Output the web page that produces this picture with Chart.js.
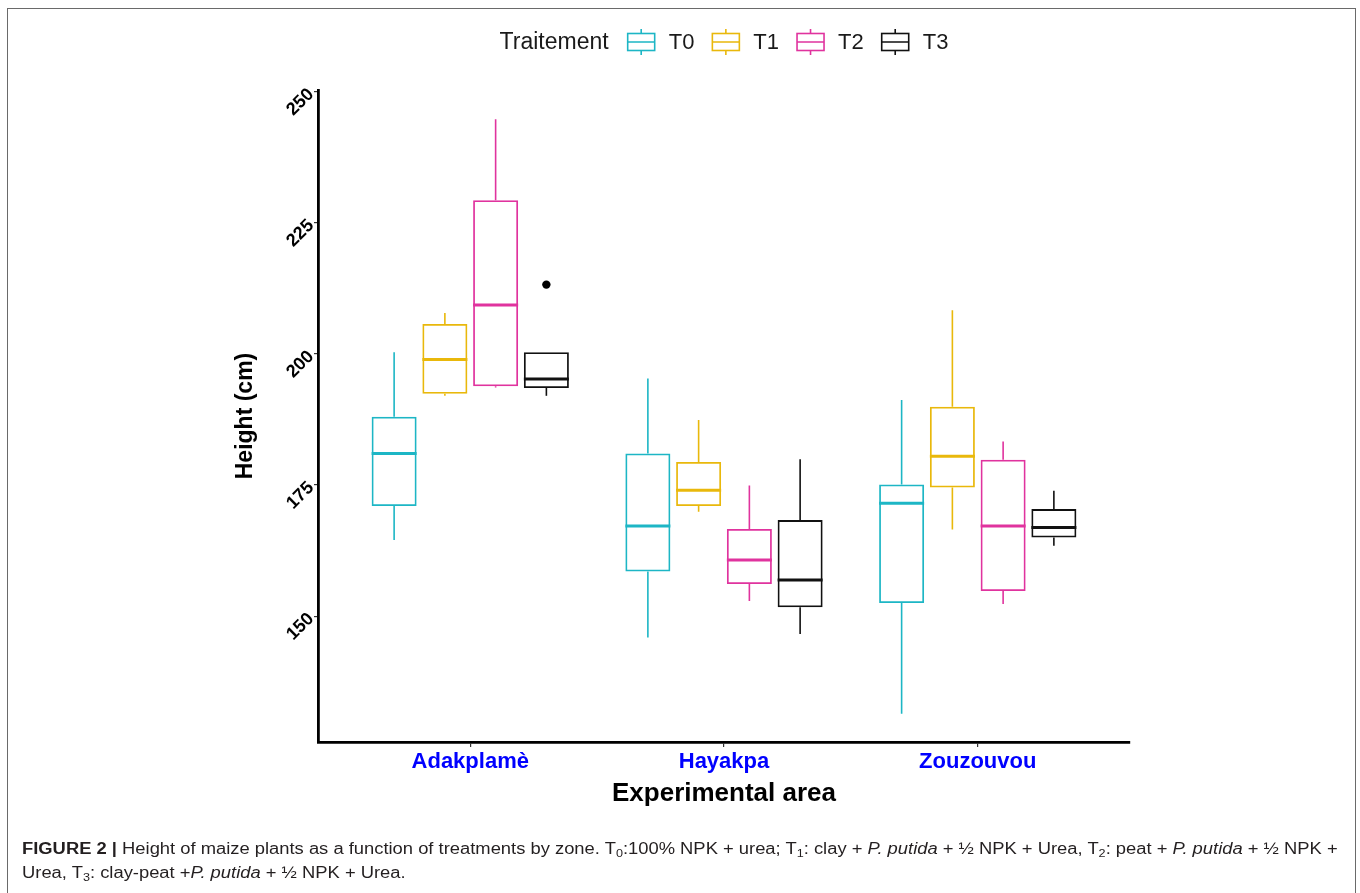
<!DOCTYPE html>
<html>
<head>
<meta charset="utf-8">
<script src="https://cdn.jsdelivr.net/npm/chart.js@4"></script>
<style>
  html, body { margin: 0; padding: 0; background: #fff; }
  #wrap { position: relative; width: 1360px; height: 893px; overflow: hidden; }
  #frame {
    position: absolute; left: 7px; top: 8px; width: 1349px; height: 900px;
    border: 1.6px solid #6a6a6a; border-bottom: none; box-sizing: border-box;
  }
  #chart { position: absolute; left: 0; top: 0; }
  #caption {
    position: absolute; left: 22px; top: 837px;
    font-family: "Liberation Sans", Arial, Helvetica, sans-serif;
    font-size: 16px; line-height: 24px; color: #231f20; white-space: nowrap;
    transform: scaleX(1.148); transform-origin: 0 0;
  }
  #caption sub { font-size: 11px; vertical-align: -3px; line-height: 0; }
</style>
</head>
<body>
<div id="wrap">
  <div id="frame"></div>
  <canvas id="chart" width="1360" height="893"></canvas>
  <div id="caption"><b>FIGURE 2 |</b> Height of maize plants as a function of treatments by zone. T<sub>0</sub>:100% NPK + urea; T<sub>1</sub>: clay + <i>P. putida</i> + ½ NPK + Urea, T<sub>2</sub>: peat + <i>P. putida</i> + ½ NPK +<br>Urea, T<sub>3</sub>: clay-peat +<i>P. putida</i> + ½ NPK + Urea.</div>
</div>
<script>
// Experimental areas and treatments
const categories = ['Adakplamè', 'Hayakpa', 'Zouzouvou'];
const treatments = ['T0', 'T1', 'T2', 'T3'];
const yTicks = [150, 175, 200, 225, 250];

// Box-plot summaries of plant height (cm): rows = treatments, columns = areas
const whiskerLow  = [[164.5, 145.9, 131.4], [192.0, 169.9, 166.5], [193.6, 152.9, 152.3], [192.0, 146.6, 163.4]];
const quartile1   = [[171.0, 158.5, 152.5], [192.4, 171.0, 174.5], [193.8, 156.1, 154.8], [193.5, 151.7, 165.0]];
const median      = [[181.0, 167.2, 171.5], [198.9, 174.0, 180.5], [209.3, 160.7, 167.2], [195.2, 156.9, 166.9]];
const quartile3   = [[188.0, 181.0, 175.1], [205.7, 179.4, 189.9], [229.3, 166.6, 179.8], [200.3, 168.3, 170.4]];
const whiskerHigh = [[200.3, 195.3, 191.2], [207.8, 187.4, 208.3], [244.7, 174.9, 183.3], [200.3, 179.9, 173.9]];

// Outlying plants
const outlierArea = ['Adakplamè'];
const outlierTreatment = ['T3'];
const outlierHeight = [213.2];

const colors = ['#1DB6C5', '#E9B80B', '#E0339E', '#111111'];
const FONT = '"Liberation Sans", Arial, Helvetica, sans-serif';
Chart.defaults.font.family = FONT;

// horizontal slot of a treatment box inside its area (dodged around the area centre)
const DODGE = 0.2;
const slot = (ci, ti) => ci + 1 + (ti - (treatments.length - 1) / 2) * DODGE;

const boxSets = treatments.map((t, ti) => ({
  type: 'bar',
  label: t,
  data: categories.map((c, ci) => ({ x: slot(ci, ti), y: [quartile1[ti][ci], quartile3[ti][ci]] })),
  borderColor: colors[ti],
  backgroundColor: 'rgba(255,255,255,0)',
  borderWidth: 1.8,
  borderSkipped: false,
  grouped: false,
  categoryPercentage: 1,
  barPercentage: 0.887
}));

const outlierSet = {
  type: 'scatter',
  label: 'outliers',
  data: outlierHeight.map((v, k) => ({
    x: slot(categories.indexOf(outlierArea[k]), treatments.indexOf(outlierTreatment[k])),
    y: v
  })),
  pointRadius: 4.2,
  backgroundColor: '#000',
  borderWidth: 0
};

// whiskers and median bars on top of each box
const boxWhiskers = {
  id: 'boxWhiskers',
  afterDatasetsDraw(chart) {
    const { ctx, scales: { y } } = chart;
    const py = v => y.getPixelForValue(v);
    treatments.forEach((t, ti) => {
      chart.getDatasetMeta(ti).data.forEach((bar, ci) => {
        const x = bar.x, half = bar.width / 2;
        ctx.save();
        ctx.strokeStyle = colors[ti];
        ctx.lineWidth = 1.6;
        ctx.beginPath();
        ctx.moveTo(x, py(quartile3[ti][ci]));
        ctx.lineTo(x, py(whiskerHigh[ti][ci]));
        ctx.moveTo(x, py(quartile1[ti][ci]));
        ctx.lineTo(x, py(whiskerLow[ti][ci]));
        ctx.stroke();
        ctx.lineWidth = 3;
        ctx.beginPath();
        ctx.moveTo(x - half, py(median[ti][ci]));
        ctx.lineTo(x + half, py(median[ti][ci]));
        ctx.stroke();
        ctx.restore();
      });
    });
  }
};

// legend row: title followed by a small box-plot key for each treatment
const boxLegend = {
  id: 'boxLegend',
  afterDraw(chart) {
    const { ctx, chartArea } = chart;
    const titleFont = '23px ' + FONT, itemFont = '22px ' + FONT;
    const iconW = 27, iconH = 17, stub = 4.5, gapTitle = 19, gapIcon = 14, gapItem = 18;
    const cy = 42;
    ctx.save();
    ctx.font = titleFont;
    const tw = ctx.measureText('Traitement').width;
    ctx.font = itemFont;
    const widths = treatments.map(t => ctx.measureText(t).width);
    const total = tw + gapTitle + widths.reduce((s, w) => s + iconW + gapIcon + w, 0) + gapItem * (treatments.length - 1);
    let x = (chartArea.left + chartArea.right) / 2 - total / 2;
    ctx.textBaseline = 'middle';
    ctx.fillStyle = '#1a1a1a';
    ctx.font = titleFont;
    ctx.fillText('Traitement', x, cy + 1);
    x += tw + gapTitle;
    treatments.forEach((t, ti) => {
      ctx.strokeStyle = colors[ti];
      ctx.lineWidth = 1.6;
      ctx.strokeRect(x, cy - iconH / 2, iconW, iconH);
      ctx.beginPath();
      ctx.moveTo(x, cy); ctx.lineTo(x + iconW, cy);
      ctx.moveTo(x + iconW / 2, cy - iconH / 2); ctx.lineTo(x + iconW / 2, cy - iconH / 2 - stub);
      ctx.moveTo(x + iconW / 2, cy + iconH / 2); ctx.lineTo(x + iconW / 2, cy + iconH / 2 + stub);
      ctx.stroke();
      x += iconW + gapIcon;
      ctx.font = itemFont;
      ctx.fillStyle = '#1a1a1a';
      ctx.fillText(t, x, cy + 1);
      x += widths[ti] + gapItem;
    });
    ctx.restore();
  }
};

new Chart(document.getElementById('chart'), {
  type: 'bar',
  data: { datasets: [...boxSets, outlierSet] },
  options: {
    responsive: false,
    animation: false,
    events: [],
    layout: { padding: { left: 220, right: 230, top: 90, bottom: 83 } },
    plugins: { legend: { display: false }, tooltip: { enabled: false } },
    scales: {
      x: {
        type: 'linear',
        min: 0.4,
        max: 3.6,
        bounds: 'data',
        offset: false,
        afterBuildTicks: s => { s.ticks = categories.map((c, i) => ({ value: i + 1 })); },
        afterFit: s => { s.height = 68; },
        ticks: {
          callback: (v, i) => categories[i],
          color: '#0000ff',
          font: { size: 22, weight: 'bold' },
          padding: 2,
          autoSkip: false,
          maxRotation: 0
        },
        grid: { offset: false, drawOnChartArea: false, drawTicks: true, tickLength: 5, color: '#333', lineWidth: 1.2 },
        border: { display: true, color: '#000', width: 2.8 },
        title: {
          display: true,
          text: 'Experimental area',
          color: '#000',
          font: { size: 26, weight: 'bold' },
          padding: { top: 0, bottom: 1 }
        }
      },
      y: {
        type: 'linear',
        min: 126,
        max: 250.3,
        bounds: 'data',
        afterBuildTicks: s => { s.ticks = yTicks.map(v => ({ value: v })); },
        afterFit: s => { s.width = 98; },
        ticks: {
          color: '#000',
          font: { size: 18, weight: 'bold' },
          minRotation: 45,
          maxRotation: 45,
          padding: 3
        },
        grid: { drawOnChartArea: false, drawTicks: true, tickLength: 4, color: '#333', lineWidth: 1.2 },
        border: { display: true, color: '#000', width: 2.8 },
        title: {
          display: true,
          text: 'Height (cm)',
          color: '#000',
          font: { size: 23, weight: 'bold' },
          padding: { top: 12, bottom: 0 }
        }
      }
    }
  },
  plugins: [boxWhiskers, boxLegend]
});
</script>
</body>
</html>
